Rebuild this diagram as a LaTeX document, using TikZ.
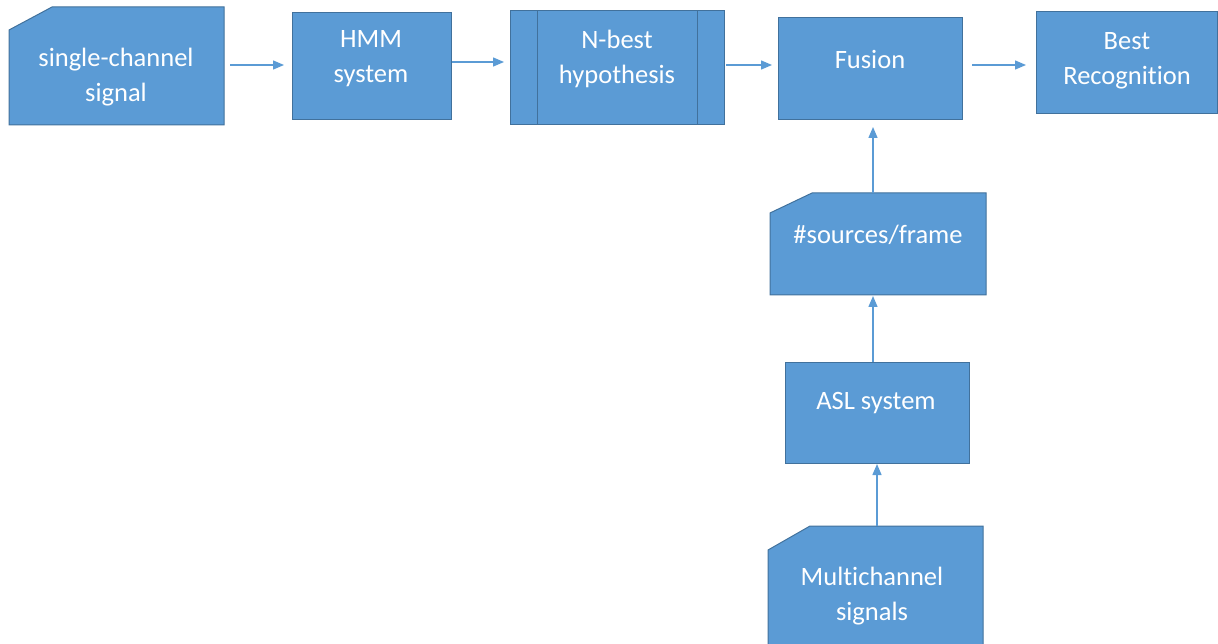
\documentclass[tikz,border=0pt]{standalone}
\usepackage{fontspec}
\setmainfont[Ligatures=NoCommon]{Carlito}
\usetikzlibrary{arrows.meta,calc}
\definecolor{boxfill}{HTML}{5B9BD5}
\definecolor{boxline}{HTML}{41719C}
\begin{document}
\begin{tikzpicture}[x=1pt,y=-1pt,
  shapebox/.style={fill=boxfill,draw=boxline,line width=1pt},
  area/.style={inner sep=0pt,outer sep=0pt},
  txt/.style={text=white,font=\fontsize{26.5}{35}\selectfont,align=center,inner sep=0pt},
  arr/.style={draw=boxfill,line width=1.4pt,-{Triangle[length=11pt,width=9pt]}}]
\useasboundingbox (0,0) rectangle (1218,644);
% single-channel signal (card)
\path[shapebox] (9,30) -- (52,7) -- (224,7) -- (224,125) -- (9,125) -- cycle;
\node[area,minimum width=215pt,minimum height=118pt] (s1) at (116.5,66) {};
\node[txt] (t1) at (116,77) {single-channel\\signal};
% HMM system
\node[area,shapebox,minimum width=159pt,minimum height=107pt] (hmm) at (371.5,66.5) {};
\node[txt] (t2) at (371,58.5) {HMM\\system};
% N-best hypothesis (predefined process)
\node[area,shapebox,minimum width=214pt,minimum height=114pt] (nb) at (617,68) {};
\draw[boxline,line width=1pt] (537,11) -- (537,125) (697,11) -- (697,125);
\node[txt] (t3) at (617,58.5) {N-best\\hypothesis};
% Fusion
\node[area,shapebox,minimum width=184pt,minimum height=102pt] (fu) at (870,69) {};
\node[txt] (t4) at (870,59) {Fusion};
% Best Recognition
\node[area,shapebox,minimum width=181pt,minimum height=102pt] (br) at (1126.5,63) {};
\node[txt] (t5) at (1127,60.5) {Best\\Recognition};
% #sources/frame (card)
\path[shapebox] (770,213) -- (812,193) -- (986,193) -- (986,295) -- (770,295) -- cycle;
\node[area,minimum width=216pt,minimum height=102pt] (sf) at (878,244) {};
\node[txt] (t6) at (878,235) {\#sources/frame};
% ASL system
\node[area,shapebox,minimum width=184pt,minimum height=101pt] (asl) at (877,412.5) {};
\node[txt] (t7) at (876,403) {ASL system};
% Multichannel signals (card)
\path[shapebox] (768,550) -- (810,526) -- (983,526) -- (983,650) -- (768,650) -- cycle;
\node[area,minimum width=215pt,minimum height=124pt] (mc) at (875.5,588) {};
\node[txt] (t8) at (872,596.5) {Multichannel\\signals};
% connectors
\draw[arr,shorten <=6pt,shorten >=8pt] (s1.east |- 0,65) -- (hmm.west |- 0,65);
\draw[arr,shorten <=1pt,shorten >=6pt] (hmm.east |- 0,62) -- (nb.west |- 0,62);
\draw[arr,shorten <=2pt,shorten >=6pt] (nb.east |- 0,65) -- (fu.west |- 0,65);
\draw[arr,shorten <=10pt,shorten >=10pt] (fu.east |- 0,65) -- (br.west |- 0,65);
\draw[arr,shorten >=7pt] (sf.north -| 873,0) -- (fu.south -| 873,0);
\draw[arr,shorten >=1pt] (asl.north -| 873,0) -- (sf.south -| 873,0);
\draw[arr,shorten >=1pt] (mc.north -| 877,0) -- (asl.south -| 877,0);
\end{tikzpicture}
\end{document}
